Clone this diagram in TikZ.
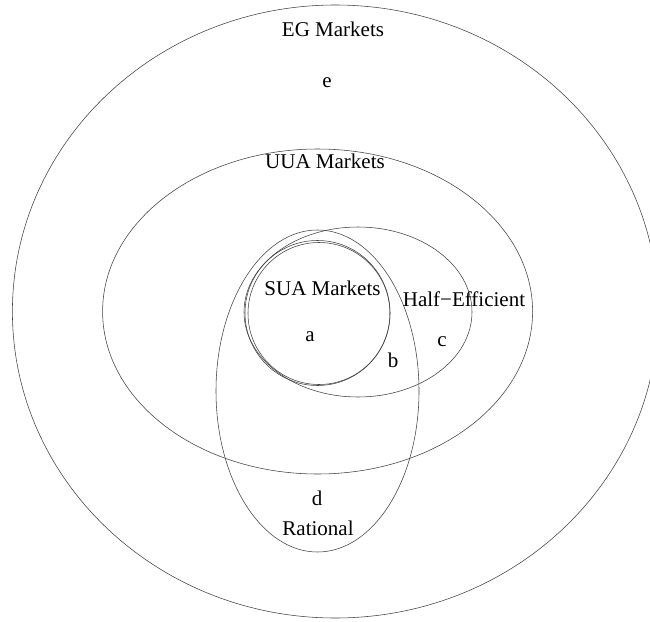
\documentclass[tikz,border=0pt]{standalone}
\usepackage{fontspec}
\setmainfont{Liberation Serif}
\begin{document}
\begin{tikzpicture}[x=1pt,y=-1pt,
  set/.style={draw=black!75, line width=0.55pt},
  lbl/.style={font=\fontsize{21}{25}\selectfont, inner sep=0pt}]
\useasboundingbox (0,0) rectangle (650,621);
\clip (0,0) rectangle (650,621);
% sets
\draw[set] (335.3,311.5) ellipse [x radius=322.9pt, y radius=306.5pt];
\draw[set] (317.6,311.5) ellipse [x radius=215pt, y radius=162.5pt];
\draw[set] (358,312) ellipse [x radius=114pt, y radius=85pt];
\draw[set] (317.5,391) ellipse [x radius=101.5pt, y radius=161pt];
\draw[set] (317.5,313) circle [radius=72.5pt];
\draw[set] (319,313.5) circle [radius=71pt];
% labels
\node[lbl] (eg) at (333,29) {EG Markets};
\node[lbl] (e) at (327,83) {e};
\node[lbl] (uua) at (325,161) {UUA Markets};
\node[lbl] (sua) at (322.5,288) {SUA Markets};
\node[lbl] (half) at (464,299) {Half−Efficient};
\node[lbl] (a) at (310,337) {a};
\node[lbl] (b) at (393,360) {b};
\node[lbl] (c) at (442,342) {c};
\node[lbl] (d) at (317,498) {d};
\node[lbl] (rat) at (318,528) {Rational};
\end{tikzpicture}
\end{document}
